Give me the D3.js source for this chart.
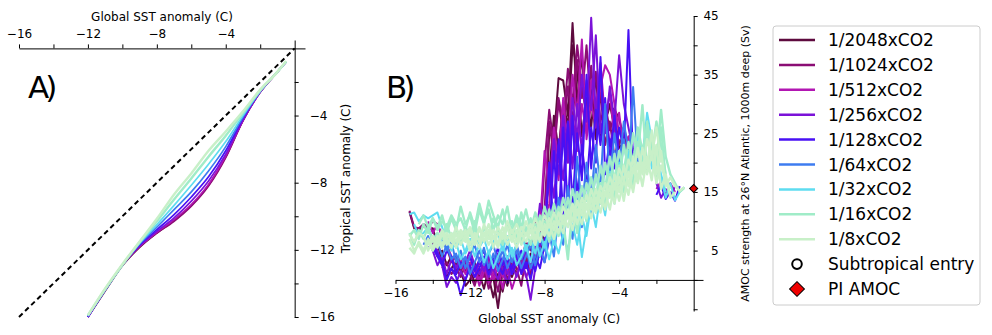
<!DOCTYPE html>
<html>
<head>
<meta charset="utf-8">
<script src="https://cdn.jsdelivr.net/npm/d3@7"></script>
<style>
body { margin: 0; background: #fff; }
svg text { font-family: "DejaVu Sans", sans-serif; fill: #000; }
</style>
</head>
<body>
<svg id="chart"></svg>
<script>
const width = 992, height = 335;

const svg = d3.select("#chart")
    .attr("width", width)
    .attr("height", height);

const labels = ["1/2048xCO2", "1/1024xCO2", "1/512xCO2", "1/256xCO2", "1/128xCO2",
    "1/64xCO2", "1/32xCO2", "1/16xCO2", "1/8xCO2"];
const colors = ["#5e0a3e", "#8b0d74", "#b216b2", "#7b12d8", "#4811f4",
    "#3e7cf0", "#5edcf0", "#a0ecc8", "#c8f0c8"];

// ---- panel A: tropical vs global SST anomaly
const globalA = [-0.5, -1, -2, -3, -4, -5, -6, -7, -8, -9, -10, -11, -12];
const trop2048 = [-0.8, -1.4, -2.6, -4.3, -6.45, -8.15, -9.35, -10.25, -11.0, -11.85, -12.95, -14.45, -16.0];
const trop1024 = [-0.8, -1.4, -2.6, -4.3, -6.5, -8.2, -9.4, -10.3, -11.0, -11.8, -12.9, -14.4, -16.0];
const trop512 = [-0.8, -1.4, -2.6, -4.3, -6.4, -8.1, -9.3, -10.2, -10.95, -11.8, -12.9, -14.4, -16.0];
const trop256 = [-0.8, -1.4, -2.6, -4.25, -6.3, -7.9, -9.1, -10.1, -10.9, -11.75, -12.9, -14.4, -16.0];
const trop128 = [-0.8, -1.4, -2.55, -4.15, -6.1, -7.65, -8.85, -9.9, -10.8, -11.7, -12.9, -14.4, -16.0];
const trop64 = [-0.8, -1.4, -2.55, -4.1, -5.85, -7.3, -8.55, -9.6, -10.65, -11.65, -12.9, -14.4, -15.95];
const trop32 = [-0.8, -1.4, -2.55, -4.0, -5.55, -6.9, -8.15, -9.35, -10.5, -11.6, -12.9, -14.35, -15.95];
const trop16 = [-0.8, -1.4, -2.5, -3.85, -5.2, -6.45, -7.75, -9.0, -10.3, -11.55, -12.9, -14.35, -15.9];
const trop8 = [-0.75, -1.4, -2.45, -3.75, -4.95, -6.1, -7.45, -8.7, -10.15, -11.5, -12.85, -14.3, -15.9];
const tropRuns = [trop2048, trop1024, trop512, trop256, trop128, trop64, trop32, trop16, trop8];

// ---- panel B: AMOC vs global SST anomaly
const globalB = [-0.5, -0.75, -1, -1.25, -1.5, -1.75, -2, -2.25, -2.5, -2.75,
    -3, -3.25, -3.5, -3.75, -4, -4.25, -4.5, -4.75, -5, -5.25,
    -5.5, -5.75, -6, -6.25, -6.5, -6.75, -7, -7.25, -7.5, -7.75,
    -8, -8.25, -8.5, -8.75, -9, -9.25, -9.5, -9.75, -10, -10.25,
    -10.5, -10.75, -11, -11.25, -11.5, -11.75, -12, -12.25, -12.5, -12.75,
    -13, -13.25, -13.5, -13.75, -14, -14.25, -14.5, -14.75, -15, -15.25];

const amoc2048 = [
    [null, null, null, null, null, null, null, null, null, null,
     null, 21.5, 22.8, 24.0, 27.5, 29.0, 29.6, 27.0, 31.5, 24.0,
     33.0, 27.0, 38.5, 30.0, 43.8, 28.0, 34.0, 34.4, 24.0, 25.2,
     6.0, 5.0, 3.0, 4.5, 2.0, 3.5, 1.0, 2.5, -1.0, 1.5,
     -4.8, 0.5, 2.0, -1.5, 1.0, 3.0, 0.0, -1.0, 1.5, 3.0,
     2.0, 0.5, 3.5, 6.0, 8.8, 8.6, 9.2, 8.5, 8.8, 11.6],
    [null, null, null, null, null, null, null, null, null, null,
     null, null, 22.0, 23.5, 22.5, 26.0, 30.0, 28.5, 24.0, 35.0,
     26.0, 31.0, 24.5, 36.0, 40.0, 26.0, 30.5, 22.0, 28.0, 18.0,
     9.0, 4.0, 6.0, 2.5, 4.0, 1.5, 3.0, 0.5, 2.0, -2.0,
     1.0, -3.0, 0.5, 2.5, 1.0, -0.5, 2.0, 1.5, 3.0, 1.0,
     4.0, 2.5, 5.0, 4.0, 6.5, 7.0, null, null, null, null]
];
const amoc1024 = [
    [null, null, null, null, null, null, null, null, null, null,
     null, 22.5, 21.0, 25.0, 23.0, 28.0, 25.5, 30.0, 27.0, 35.5,
     29.0, 40.0, 31.0, 37.5, 27.0, 33.0, 25.0, 30.5, 21.0, 27.0,
     12.0, 8.0, 10.5, 5.0, 6.5, 3.0, 5.0, 2.0, 4.0, 0.5,
     3.5, 1.0, -1.5, 2.0, 0.0, 2.5, 1.0, 3.0, 1.5, 4.0,
     3.0, 5.5, 7.5, 9.5, 10.0, 9.0, 9.5, 8.8, 9.0, 11.8],
    [null, null, null, null, null, null, null, null, null, null,
     null, null, null, null, 24.0, 21.0, 27.0, 23.0, 32.0, 26.0,
     36.5, 28.0, 33.0, 40.0, 30.0, 36.0, 26.5, 31.0, 23.0, 29.0,
     20.0, 6.0, 3.5, 1.0, 4.0, -1.0, 2.0, 3.5, 0.0, 2.5,
     -2.0, 1.5, 3.0, 0.5, 2.0, -1.0, 1.0, 2.5, 0.5, 2.0,
     1.0, 3.0, 2.0, null, null, null, null, null, null, null]
];
const amoc512 = [
    [null, null, 15.0, 16.5, 14.5, 16.8, 15.5, null, null, null,
     null, 21.0, 23.0, 26.0, 25.0, 30.0, 35.0, 36.6, 33.0, 26.0,
     30.0, 24.0, 41.0, 28.0, 35.0, 22.0, 31.0, 20.0, 26.0, 15.0,
     22.0, 9.0, 5.0, 3.0, 5.5, 2.0, 4.5, 1.0, 3.0, -1.5,
     2.0, 0.0, 3.5, 1.5, -1.0, 2.0, 3.0, 1.0, 3.5, 2.0,
     4.0, 6.0, 7.5, 9.5, 8.0, 10.0, null, null, null, null],
    [null, null, null, null, null, null, null, null, null, null,
     null, 20.0, 24.5, 22.0, 28.5, 24.0, 32.0, 27.0, 37.0, 29.0,
     34.0, 25.0, 30.0, 22.0, 28.0, 20.0, 26.0, 17.0, 23.0, 13.0,
     8.0, 11.0, 4.5, 2.0, 0.5, 3.0, 1.0, -1.5, 2.0, 0.5,
     3.0, 1.0, -0.5, 2.5, 0.0, 1.5, 4.0, 2.0, null, null,
     null, null, null, null, null, null, null, null, null, null]
];
const amoc256 = [
    [null, null, 16.0, 14.2, 15.5, 14.0, 16.5, null, null, null,
     null, 22.0, 26.0, 30.0, 38.3, 27.0, 33.0, 25.0, 36.0, 28.0,
     44.7, 27.0, 35.0, 24.0, 31.0, 20.0, 28.0, 18.0, 24.0, 16.0,
     12.0, 5.0, 2.0, -3.4, 1.0, 3.0, 0.5, 2.5, 1.0, 3.5,
     0.0, 2.0, 4.0, 1.5, 3.0, 0.5, 2.0, 0.0, 1.5, -0.5,
     0.5, -1.2, 2.5, 5.0, 7.3, 6.0, null, null, null, null],
    [null, null, null, null, null, null, null, null, null, null,
     null, null, null, 24.0, 21.0, 26.5, 23.0, 30.0, 25.0, 41.7,
     29.0, 34.0, 22.0, 30.0, 19.0, 27.0, 17.0, 23.0, 14.0, 20.0,
     10.0, 13.0, 6.0, 3.0, 5.0, 1.5, 4.0, 2.0, -0.5, 2.0,
     4.5, 2.0, 0.5, 3.0, 1.0, 2.5, 5.0, 3.0, 4.0, 2.0,
     3.5, 1.0, 4.0, 2.5, 5.0, 7.0, null, null, null, null]
];
const amoc128 = [
    [null, 16.0, 13.5, 15.0, 13.8, 16.2, 14.5, null, null, null,
     null, 20.0, 42.6, 22.0, 26.0, 19.0, 24.0, 18.0, 38.0, 20.0,
     26.0, 16.0, 23.0, 14.0, 28.0, 12.0, 26.0, 9.0, 22.0, 7.0,
     3.0, 5.0, 1.5, 4.0, 2.0, 5.0, 3.0, 1.0, 4.0, 2.5,
     5.5, 3.0, 1.0, 4.0, 2.0, 0.5, 2.5, 0.0, -2.6, 0.5,
     2.0, 0.0, 3.0, 4.5, 6.0, 5.5, null, null, null, null],
    [null, null, null, null, null, null, null, null, null, null,
     null, null, null, null, 21.0, 28.0, 20.0, 31.0, 23.0, 29.0,
     19.0, 35.0, 17.0, 25.0, 13.0, 27.0, 11.0, 24.0, 8.0, 20.0,
     6.0, 2.0, 4.0, 0.0, 3.0, 1.0, 4.5, 2.0, 3.5, 1.0,
     2.5, 4.0, 2.0, 5.0, 3.5, 1.5, 4.0, 2.0, 3.0, 1.0,
     4.0, 5.0, 2.5, 4.0, 5.5, null, null, null, null, null]
];
const amoc64 = [
    [null, null, null, null, null, null, null, null, null, null,
     20.0, 32.9, 18.0, 24.0, 16.0, 22.0, 14.5, 20.0, 13.0, 19.0,
     11.0, 17.0, 9.0, 15.0, 7.0, 13.0, 6.0, 11.0, 4.0, 8.0,
     3.0, 5.5, 2.5, 6.0, 4.0, 2.0, 5.0, 3.0, 6.0, 3.5,
     1.5, 4.5, 2.0, 5.5, 3.0, 6.0, 4.0, 2.0, 5.0, 3.0,
     6.5, 5.0, 7.0, null, null, null, null, null, null, null],
    [null, null, null, null, null, null, null, null, null, null,
     null, null, 22.0, 27.0, 19.0, 25.0, 17.0, 30.0, 16.0, 23.0,
     14.0, 20.0, 12.0, 21.0, 10.0, 16.0, 8.0, 14.0, 6.5, 10.0,
     5.0, 7.0, 4.0, 2.0, 5.5, 3.5, 6.0, 4.0, 2.0, 5.0,
     3.0, 6.0, 4.5, 2.5, 5.0, 3.0, 1.0, 4.0, 2.0, 4.5,
     3.5, 6.0, 4.0, 6.5, 5.0, 7.5, 6.0, null, null, null]
];
const amoc32 = [
    [15.8, 15.0, 13.6, 16.5, 14.0, 17.5, 19.0, 24.0, 28.5, 21.0,
     25.0, 19.0, 22.0, 17.5, 20.0, 16.0, 18.5, 14.0, 16.5, 12.5,
     15.0, 9.0, 3.9, 11.0, 8.5, 12.0, 7.5, 10.0, 6.0, 9.0,
     5.5, 8.0, 4.5, 7.0, 5.0, 8.5, 6.0, 4.0, 7.5, 5.0,
     8.0, 6.5, 4.5, 7.0, 5.5, 8.5, 6.0, 4.5, 7.0, 5.5,
     8.0, 6.5, 9.0, 11.5, 11.0, 10.5, 11.0, 10.0, 11.5, 11.2],
    [null, null, null, null, 15.0, 18.0, 22.0, 19.0, 26.0, 20.0,
     23.0, 17.0, 21.0, 15.0, 19.0, 13.0, 17.0, 11.0, 15.0, 9.0,
     13.0, 7.5, 11.0, 6.0, 9.5, 5.0, 8.0, 4.5, 7.0, 3.5,
     6.5, 4.0, 7.0, 3.0, 6.0, 4.0, 2.5, 5.5, 3.5, 6.0,
     4.0, 2.0, 5.0, 3.0, 6.0, 4.0, 7.0, 5.0, 3.5, 6.5,
     5.0, 7.5, 6.0, 8.0, 7.0, 9.0, 8.0, 7.5, 9.5, null]
];
const amoc16 = [
    [15.7, 15.0, 16.5, 18.0, 21.0, 29.0, 20.0, 24.0, 18.5, 29.8,
     21.0, 25.0, 19.0, 23.0, 17.0, 21.5, 16.0, 20.0, 14.5, 18.0,
     13.0, 16.5, 12.0, 15.0, 10.5, 14.0, 9.5, 12.5, 8.0, 12.0,
     8.5, 11.0, 7.5, 10.5, 8.0, 11.5, 7.0, 10.0, 8.5, 12.0,
     9.0, 11.0, 13.5, 9.5, 12.0, 8.0, 11.0, 9.5, 12.5, 8.5,
     10.5, 8.0, 11.0, 9.0, 10.5, 8.0, 9.5, 7.0, 8.5, 7.5],
    [null, null, null, 14.5, 17.0, 26.0, 17.5, 22.0, 27.0, 19.0,
     23.5, 16.0, 20.0, 15.0, 19.5, 14.0, 18.0, 12.5, 16.5, 11.5,
     15.0, 10.0, 13.5, 8.0, 12.5, 3.5, 10.0, 7.5, 11.0, 6.5,
     10.0, 7.0, 9.5, 6.0, 9.0, 6.5, 10.5, 7.0, 9.5, 6.0,
     8.5, 10.5, 7.0, 9.0, 6.5, 10.0, 7.5, 9.0, 6.0, 8.5,
     7.0, 9.5, 7.0, 8.0, 6.5, 9.0, 7.0, 8.5, 6.0, 8.0],
    [null, null, null, null, 18.0, 23.0, 27.0, 21.0, 25.5, 22.0,
     26.0, 20.0, 23.5, 18.5, 22.0, 17.0, 21.0, 15.5, 19.5, 14.0,
     17.5, 13.5, 16.0, 12.0, 15.5, 11.0, 14.0, 10.0, 13.0, 9.5,
     12.5, 9.0, 11.5, 8.5, 12.0, 9.0, 11.0, 8.0, 12.5, 9.5,
     11.0, 8.5, 12.0, 10.0, 13.0, 9.0, 11.5, 8.5, 10.5, 9.5,
     11.0, 9.0, 10.0, 8.5, 10.5, 9.0, 11.0, 9.5, null, null]
];
const amoc8 = [
    [15.8, 15.2, 16.0, 17.5, 16.0, 22.0, 18.0, 25.5, 19.0, 22.5,
     17.0, 21.0, 16.0, 19.5, 15.0, 18.0, 14.0, 16.5, 13.0, 15.5,
     12.0, 14.5, 11.0, 13.5, 10.0, 12.0, 9.5, 11.5, 8.5, 10.5,
     8.0, 10.0, 7.0, 9.5, 7.5, 9.0, 6.5, 8.5, 7.0, 9.0,
     6.0, 8.5, 7.0, 9.5, 6.5, 8.0, 6.0, 8.5, 7.0, 9.0,
     6.5, 8.0, 6.0, 7.5, 5.5, 7.0, 5.0, 6.5, 4.5, 5.5],
    [null, null, 15.0, 14.0, 18.0, 15.5, 23.0, 17.0, 21.0, 16.0,
     20.0, 15.0, 18.5, 13.5, 17.5, 13.0, 16.0, 12.0, 15.0, 11.5,
     14.0, 10.5, 13.0, 9.5, 12.5, 9.0, 11.0, 8.0, 10.0, 7.5,
     9.5, 6.5, 9.0, 7.0, 8.0, 6.0, 8.5, 6.5, 9.0, 7.0,
     8.0, 5.5, 8.5, 6.5, 9.0, 6.0, 8.5, 6.5, 8.0, 5.5,
     7.5, 6.0, 8.0, 5.5, 7.0, 5.0, 7.5, 8.0, 6.5, 7.8],
    [null, null, null, null, null, 20.0, 26.0, 21.0, 24.0, 18.0,
     22.5, 18.5, 20.5, 17.0, 19.0, 15.5, 17.5, 14.5, 16.0, 13.0,
     15.5, 12.0, 14.0, 11.0, 13.0, 10.5, 12.5, 9.5, 11.5, 9.0,
     11.0, 8.5, 10.5, 8.0, 10.0, 7.5, 9.5, 8.0, 10.0, 7.5,
     9.0, 7.0, 9.5, 7.5, 8.5, 7.0, 9.0, 7.5, 8.5, 6.5,
     8.0, 7.0, 8.5, 6.5, 7.5, 6.0, null, null, null, null],
    [null, null, null, 15.5, 17.0, 19.5, 16.5, 21.5, 18.0, 20.0,
     16.5, 19.0, 14.5, 17.0, 13.5, 16.5, 12.0, 15.0, 11.5, 14.0,
     10.5, 13.0, 9.5, 12.0, 8.5, 11.5, 8.0, 10.0, 7.0, 9.5,
     7.5, 9.0, 6.0, 8.5, 6.5, 8.0, 5.5, 7.5, 6.0, 8.0,
     5.5, 7.5, 6.0, 8.0, 5.5, 7.0, 5.0, 7.5, 6.0, 8.0,
     5.5, 7.0, 5.5, 6.5, 5.0, 6.5, 4.5, 6.0, 5.0, 7.0]
];
const amocRuns = [amoc2048, amoc1024, amoc512, amoc256, amoc128, amoc64, amoc32, amoc16, amoc8];

const piAmoc = 15.6;

// ---------------- panel A ----------------
const xA = d3.scaleLinear().domain([-16, 0.6]).range([19, 305]);
const yA = d3.scaleLinear().domain([0.5, -16]).range([40, 317]);

const lineA = d3.line()
    .x(d => xA(d[0]))
    .y(d => yA(d[1]))
    .curve(d3.curveMonotoneX);

const gA = svg.append("g");

tropRuns.forEach((trop, i) => {
    gA.append("path")
        .datum(globalA.map((g, j) => [g, trop[j]]))
        .attr("d", lineA)
        .attr("fill", "none")
        .attr("stroke", colors[i])
        .attr("stroke-width", i >= 7 ? 2.4 : 1.7);
});

gA.append("line")
    .attr("x1", xA(-16)).attr("y1", yA(-16))
    .attr("x2", xA(0)).attr("y2", yA(0))
    .attr("stroke", "#000")
    .attr("stroke-width", 2)
    .attr("stroke-dasharray", "5,3.5");

const fmt = d3.format("d");

gA.append("g")
    .attr("transform", `translate(0,${yA(0)})`)
    .call(d3.axisTop(xA)
        .tickValues([-16, -14, -12, -10, -8, -6, -4, -2])
        .tickFormat(d => d % 4 === 0 ? fmt(d) : "")
        .tickSize(4).tickSizeOuter(0).tickPadding(6));

gA.append("g")
    .attr("transform", `translate(${xA(0)},0)`)
    .call(d3.axisRight(yA)
        .tickValues([-2, -4, -6, -8, -10, -12, -14, -16])
        .tickFormat(d => d % 4 === 0 ? fmt(d) : "")
        .tickSize(4).tickSizeOuter(0).tickPadding(11));

gA.append("text")
    .attr("x", xA(-7.7)).attr("y", 21)
    .attr("text-anchor", "middle")
    .style("font-size", "12px")
    .text("Global SST anomaly (C)");

gA.append("text")
    .attr("transform", `translate(350,${yA(-7.75)}) rotate(-90)`)
    .attr("text-anchor", "middle")
    .style("font-size", "12px")
    .text("Tropical SST anomaly (C)");

gA.append("text")
    .attr("x", 28).attr("y", 98)
    .style("font-size", "31px")
    .style("letter-spacing", "-4px")
    .text("A)");

// ---------------- panel B ----------------
const xB = d3.scaleLinear().domain([-16, 0.5]).range([395.5, 703]);
const yB = d3.scaleLinear().domain([-5.3, 45]).range([311, 16]);

const lineB = d3.line()
    .defined(d => d[1] != null)
    .x(d => xB(d[0]))
    .y(d => yB(d[1]));

const gB = svg.append("g");

amocRuns.forEach((runs, i) => {
    runs.forEach(run => {
        gB.append("path")
            .datum(globalB.map((g, j) => [g, run[j]]))
            .attr("d", lineB)
            .attr("fill", "none")
            .attr("stroke", colors[i])
            .attr("stroke-width", i >= 7 ? 2.4 : 2)
            .attr("stroke-linejoin", "round");
    });
});

gB.append("g")
    .attr("transform", `translate(0,${yB(0)})`)
    .call(d3.axisBottom(xB)
        .tickValues([-16, -14, -12, -10, -8, -6, -4, -2])
        .tickFormat(d => d % 4 === 0 ? fmt(d) : "")
        .tickSize(4).tickSizeOuter(0).tickPadding(5));

const axBRight = gB.append("g")
    .attr("transform", `translate(${xB(0)},0)`)
    .call(d3.axisRight(yB)
        .tickValues([-5, 0, 5, 10, 15, 20, 25, 30, 35, 40, 45])
        .tickFormat(d => (d > 0 && d % 10 === 5) ? fmt(d) : "")
        .tickSize(4).tickSizeOuter(0));
axBRight.selectAll(".tick text")
    .attr("x", 25)
    .attr("text-anchor", "end");

gB.append("path")
    .attr("d", d3.symbol(d3.symbolSquare, 32)())
    .attr("transform", `translate(${xB(0)},${yB(piAmoc)}) rotate(45)`)
    .attr("fill", "#e00000")
    .attr("stroke", "#000")
    .attr("stroke-width", 1);

gB.append("text")
    .attr("x", xB(-7.75)).attr("y", 323)
    .attr("text-anchor", "middle")
    .style("font-size", "12px")
    .text("Global SST anomaly (C)");

gB.append("text")
    .attr("transform", `translate(749,${yB(19.85)}) rotate(-90)`)
    .attr("text-anchor", "middle")
    .style("font-size", "11px")
    .text("AMOC strength at 26°N Atlantic, 1000m deep (Sv)");

gB.append("text")
    .attr("x", 386).attr("y", 98)
    .style("font-size", "31px")
    .style("letter-spacing", "-4px")
    .text("B)");

svg.selectAll(".tick text").style("font-size", "12px").style("font-family", "DejaVu Sans");
svg.selectAll(".domain, .tick line").attr("stroke", "#000");

// ---------------- legend ----------------
const legend = svg.append("g").attr("transform", "translate(773,26)");
legend.append("rect")
    .attr("width", 207).attr("height", 279)
    .attr("rx", 3)
    .attr("fill", "#fff")
    .attr("stroke", "#cccccc")
    .attr("stroke-width", 1);

const rowY = i => 14 + i * 24.9;

labels.forEach((name, i) => {
    legend.append("line")
        .attr("x1", 6).attr("x2", 42)
        .attr("y1", rowY(i)).attr("y2", rowY(i))
        .attr("stroke", colors[i])
        .attr("stroke-width", 2.5);
    legend.append("text")
        .attr("x", 55).attr("y", rowY(i) + 6)
        .style("font-size", "17px")
        .text(name);
});

legend.append("circle")
    .attr("cx", 24).attr("cy", rowY(9))
    .attr("r", 4.8)
    .attr("fill", "#fff")
    .attr("stroke", "#000")
    .attr("stroke-width", 2);
legend.append("text")
    .attr("x", 55).attr("y", rowY(9) + 6)
    .style("font-size", "17px")
    .text("Subtropical entry");

legend.append("path")
    .attr("d", d3.symbol(d3.symbolSquare, 110)())
    .attr("transform", `translate(24,${rowY(10)}) rotate(45)`)
    .attr("fill", "#f00000")
    .attr("stroke", "#000")
    .attr("stroke-width", 1);
legend.append("text")
    .attr("x", 55).attr("y", rowY(10) + 6)
    .style("font-size", "17px")
    .text("PI AMOC");
</script>
</body>
</html>
